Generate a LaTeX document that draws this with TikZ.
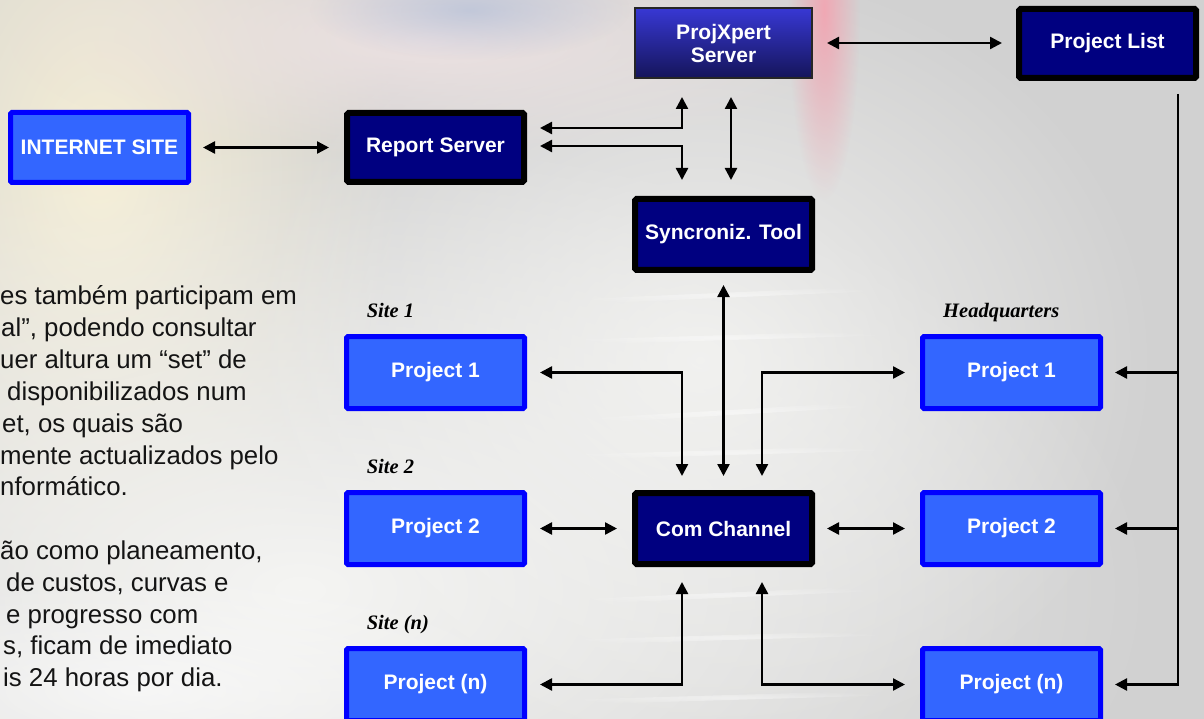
\documentclass[tikz,border=0pt]{standalone}
\usepackage{fontspec}
\setmainfont{Liberation Sans}
\newfontfamily\labelserif{Liberation Serif}
\usetikzlibrary{arrows.meta,fadings}
\definecolor{bgGray}{HTML}{D1D1D1}
\definecolor{lightBlue}{HTML}{3366FF}
\definecolor{pureBlue}{HTML}{0000FF}
\definecolor{navyFill}{HTML}{000080}
\definecolor{pxTop}{HTML}{3838D4}
\definecolor{pxBot}{HTML}{15155A}
\definecolor{creamC}{HTML}{F6EFD6}
\definecolor{paperW}{HTML}{F5F5F3}
\definecolor{pinkC}{HTML}{F0A8B4}
\definecolor{cloudC}{HTML}{EDE2E2}
\definecolor{blueHaze}{HTML}{9FB3D6}
\tikzfading[name=softglow, inner color=transparent!0, outer color=transparent!100]
\begin{document}
\begin{tikzpicture}[x=1pt,y=-1pt,
  >={Triangle[length=12pt,width=12pt]},
  boxtext/.style={text=white,font=\fontsize{21}{23}\selectfont\bfseries,align=center,inner sep=0pt},
  lightbox/.style={boxtext,draw=pureBlue,fill=lightBlue,line width=5pt,rounded corners=1.5pt,minimum width=178pt,minimum height=72pt},
  navybox/.style={boxtext,draw=black,fill=navyFill,line width=6pt,rounded corners=1.5pt,minimum width=177pt,minimum height=71pt},
  pxbox/.style={boxtext,draw=black!85,top color=pxTop,bottom color=pxBot,line width=2pt,minimum width=177pt,minimum height=70pt},
  conn/.style={line width=2.4pt,draw=black},
  sitelabel/.style={font=\labelserif\fontsize{20.5}{24}\selectfont\bfseries\itshape,anchor=base west,inner sep=0pt,text=black},
  bodytext/.style={font=\fontsize{25.8}{31.8}\selectfont,anchor=base west,inner sep=0pt,text=black!92}
]
\useasboundingbox (0,0) rectangle (1204,719);
\clip (0,0) rectangle (1204,719);
% ---------- background ----------
\fill[bgGray] (0,0) rectangle (1204,719);
\fill[creamC, path fading=softglow] (100,170) ellipse [x radius=300, y radius=480];
\fill[paperW, path fading=softglow] (300,590) ellipse [x radius=860, y radius=460];
\fill[paperW, opacity=.85, path fading=softglow] (700,360) ellipse [x radius=460, y radius=400];
\fill[cloudC, path fading=softglow] (430,40) ellipse [x radius=420, y radius=120];
\fill[blueHaze, opacity=.5, path fading=softglow] (470,10) ellipse [x radius=160, y radius=50];
\fill[pinkC, path fading=softglow] (824,10) ellipse [x radius=36, y radius=190];
\fill[white, opacity=.6, path fading=softglow] (140,690) ellipse [x radius=400, y radius=120];
\foreach \ya/\yb in {300/285, 340/330, 420/400, 455/445, 600/585, 640/630, 700/690}{
  \fill[white, opacity=.45, path fading=softglow] (560,\ya) -- (900,\yb) -- (900,\yb+5) -- (560,\ya+5) -- cycle;
}
% ---------- body text (fragments as shown) ----------
\node[bodytext] (t1) at (0,305) {es também participam em};
\node[bodytext] (t2) at (1,336.8) {al”, podendo consultar};
\node[bodytext] (t3) at (0,368.6) {uer altura um “set” de};
\node[bodytext] (t4) at (7,400.4) {disponibilizados num};
\node[bodytext] (t5) at (2,432.2) {et, os quais são};
\node[bodytext] (t6) at (0,464) {mente actualizados pelo};
\node[bodytext] (t7) at (0,495.8) {nformático.};
\node[bodytext] (t8) at (0,559.4) {ão como planeamento,};
\node[bodytext] (t9) at (6,591.2) {de custos, curvas e};
\node[bodytext] (t10) at (6,623) {e progresso com};
\node[bodytext] (t11) at (3,654.8) {s, ficam de imediato};
\node[bodytext] (t12) at (3,686.6) {is 24 horas por dia.};
% ---------- labels ----------
\node[sitelabel] (l1) at (366.6,317) {Site 1};
\node[sitelabel] (l2) at (366.6,473) {Site 2};
\node[sitelabel] (l3) at (366.6,629) {Site (n)};
\node[sitelabel] (lhq) at (943,317.5) {Headquarters};
% ---------- nodes ----------
\node[lightbox, minimum height=70pt] (inet) at (99.5,147.5) {INTERNET SITE};
\node[navybox, minimum height=69pt] (rsrv) at (435.5,147.5) {Report Server};
\node[pxbox] (pxs) at (723.5,43) {ProjXpert\\Server};
\node[navybox, minimum height=69pt] (plist) at (1107.5,43.5) {Project List};
\node[navybox] (sync) at (723.5,234.5) {Syncroniz. Tool};
\node[navybox] (com) at (723.5,528.5) {Com Channel};
\node[lightbox] (s1) at (435.5,372.5) {Project 1};
\node[lightbox] (s2) at (435.5,528.5) {Project 2};
\node[lightbox] (sn) at (435.5,684.5) {Project (n)};
\node[lightbox] (h1) at (1011.5,372.5) {Project 1};
\node[lightbox] (h2) at (1011.5,528.5) {Project 2};
\node[lightbox] (hn) at (1011.5,684.5) {Project (n)};
% ---------- connectors ----------
\draw[conn,<->,shorten <=12pt,shorten >=15pt] (inet.east) -- (rsrv.west);
\draw[conn,<->] ([xshift=13pt,yshift=19.5pt]rsrv.east) -| ([xshift=-41.5pt,yshift=-18pt]pxs.south);
\draw[conn,<->] ([xshift=13pt,yshift=1.5pt]rsrv.east) -| ([xshift=-41.5pt,yshift=16pt]sync.north);
\draw[conn,<->] ([xshift=7.5pt,yshift=-18pt]pxs.south) -- ([xshift=7.5pt,yshift=16pt]sync.north);
\draw[conn,<->,shorten <=14pt,shorten >=14pt] (pxs.east) -- (pxs.east -| plist.west);
\draw[conn,<->,shorten <=12pt,shorten >=14pt] (sync.south) -- (com.north);
\draw[conn,<->] ([xshift=13pt]s1.east) -| ([xshift=-41.5pt,yshift=14pt]com.north);
\draw[conn,<->] ([xshift=-15pt]h1.west) -| ([xshift=38.5pt,yshift=14pt]com.north);
\draw[conn,<->,shorten <=13pt,shorten >=15pt] (s2.east) -- (com.west);
\draw[conn,<->,shorten <=12pt,shorten >=15pt] (com.east) -- (h2.west);
\draw[conn,<->] ([xshift=13pt]sn.east) -| ([xshift=-41.5pt,yshift=-15pt]com.south);
\draw[conn,<->] ([xshift=-15pt]hn.west) -| ([xshift=38.5pt,yshift=-15pt]com.south);
\coordinate (bustop) at ([xshift=70.5pt,yshift=-13pt]plist.south);
\draw[conn,->] (bustop) |- ([xshift=12pt]hn.east);
\draw[conn,<-] ([xshift=12pt]h1.east) -- (h1.east -| bustop);
\draw[conn,<-] ([xshift=12pt]h2.east) -- (h2.east -| bustop);
\end{tikzpicture}
\end{document}
